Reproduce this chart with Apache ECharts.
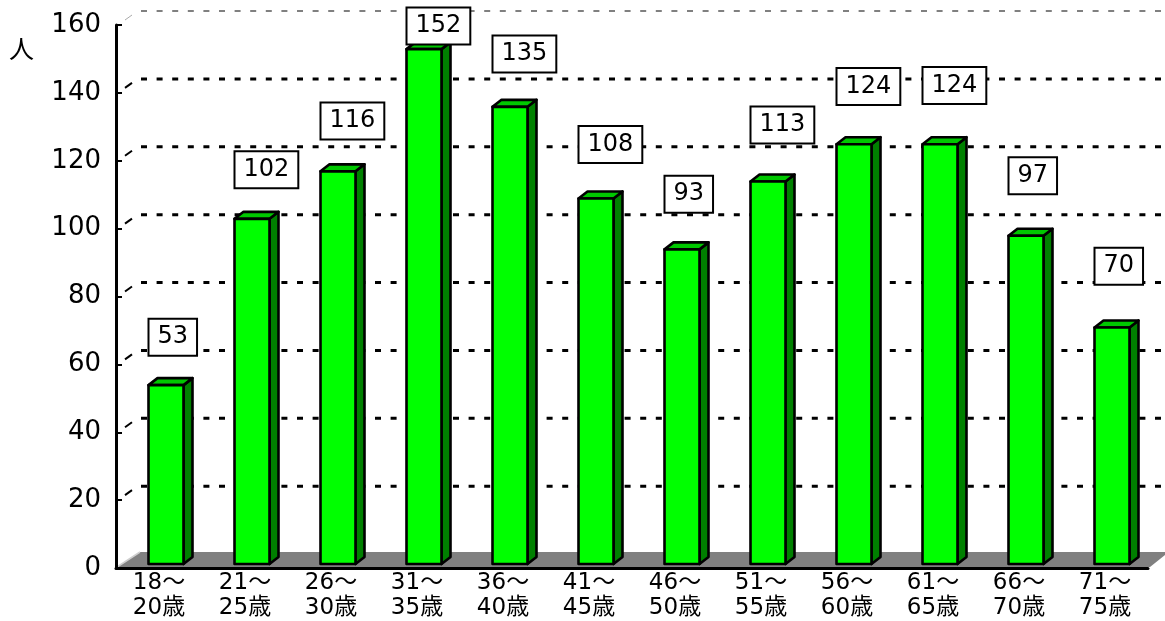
<!DOCTYPE html>
<html><head><meta charset="utf-8">
<script src="https://cdn.jsdelivr.net/npm/echarts@6/dist/echarts.min.js"></script>
<style>html,body{margin:0;padding:0;background:#fff}#c{width:1165px;height:621px}</style>
</head><body><div id="c"></div>
<script>
const categories = ['18～\n20歳','21～\n25歳','26～\n30歳','31～\n35歳','36～\n40歳','41～\n45歳','46～\n50歳','51～\n55歳','56～\n60歳','61～\n65歳','66～\n70歳','71～\n75歳'];
const values = [53,102,116,152,135,108,93,113,124,124,97,70];
const yTicks = [0,20,40,60,80,100,120,140,160];
const unitLabel = '人';
const FONT = '"DejaVu Sans","Noto Sans CJK JP",sans-serif';
const CW = 1165;

function renderDecor(params, api){
  const cs = params.coordSys;
  const x0 = cs.x, x1 = cs.x + cs.width;
  const y0 = api.coord([0, 0])[1];
  const ch = [];
  ch.push({type:'polygon', shape:{points:[[x0+1,y0-1],[x0+24,y0-16],[CW,y0-16],[CW,y0-13],[x1+2,y0-1]]}, style:{fill:'#808080'}});
  ch.push({type:'line', shape:{x1:x0+1,y1:y0-1,x2:x0+24,y2:y0-16}, style:{stroke:'#cfcfcf',lineWidth:1.5}});
  yTicks.forEach(v => {
    if (v === 0) return;
    const y = api.coord([0, v])[1];
    const isTop = v === yTicks[yTicks.length-1];
    ch.push({type:'line', shape:{x1:x0+24,y1:y-14,x2:CW,y2:y-14},
      style:{stroke:isTop?'#808080':'#000',lineWidth:isTop?2:3,lineDash:[6,9.6],lineDashOffset:-1}});
    ch.push({type:'line', shape:{x1:x0+9,y1:y-5,x2:x0+16,y2:y-10},
      style:{stroke:isTop?'#aaaaaa':'#000',lineWidth:isTop?1:2}});
  });
  return {type:'group', children:ch};
}

function renderBar(params, api){
  const idx = api.value(0), v = api.value(1);
  const top = api.coord([idx, v]);
  const base = api.coord([idx, 0]);
  const bw = 35, dx = 9, dy = 7;
  const cx = top[0] + 7;
  const xl = cx - bw/2, xr = cx + bw/2;
  const yT = top[1] - 3, yB = base[1] - 4;
  const st = {stroke:'#000', lineWidth:2.6, lineJoin:'round'};
  const ch = [
    {type:'polygon', shape:{points:[[xr,yT],[xr+dx,yT-dy],[xr+dx,yB-dy],[xr,yB]]}, style:Object.assign({fill:'#008000'},st)},
    {type:'polygon', shape:{points:[[xl,yT],[xl+dx,yT-dy],[xr+dx,yT-dy],[xr,yT]]}, style:Object.assign({fill:'#00c800'},st)},
    {type:'rect', shape:{x:xl,y:yT,width:bw,height:yB-yT}, style:Object.assign({fill:'#00ff00'},st)}
  ];
  let ly = yT - (48 + idx*1.2);
  if (ly < 26) ly = 26;
  ch.push({type:'text', x: xl + 1, y: ly, z2: 10,
    style:{text:String(v), font:'24px '+FONT, fill:'#000', align:'left', verticalAlign:'middle',
      backgroundColor:'#fff', borderColor:'#000', borderWidth:2, padding:[6,8,4,8], lineHeight:25}});
  return {type:'group', children:ch};
}

const chart = echarts.init(document.getElementById('c'), null, {renderer:'canvas'});
chart.setOption({
  animation:false,
  backgroundColor:'#fff',
  grid:{left:116, right:17, top:25, bottom:49, containLabel:false},
  xAxis:{type:'category', data:categories, z:5,
    axisLine:{lineStyle:{color:'#000', width:3}}, axisTick:{show:false},
    axisLabel:{color:'#000', fontFamily:FONT, fontSize:23, lineHeight:25, margin:3, interval:0}},
  yAxis:{type:'value', min:yTicks[0], max:yTicks[yTicks.length-1], interval:20, z:5,
    axisLine:{show:true, lineStyle:{color:'#000', width:3}},
    axisTick:{show:true, inside:true, length:6, lineStyle:{color:'#000', width:2}},
    splitLine:{show:false},
    axisLabel:{color:'#000', fontFamily:FONT, fontSize:26, margin:15}},
  graphic:[{type:'text', left:9, top:36, style:{text:unitLabel, font:'25px "Noto Sans CJK JP",sans-serif', fill:'#000'}}],
  series:[
    {type:'custom', renderItem:renderDecor, data:[[0,0]], z:1, silent:true},
    {type:'custom', renderItem:renderBar, data:values.map((v,i)=>[i,v]), z:3, encode:{x:0,y:1}}
  ]
});
</script></body></html>
